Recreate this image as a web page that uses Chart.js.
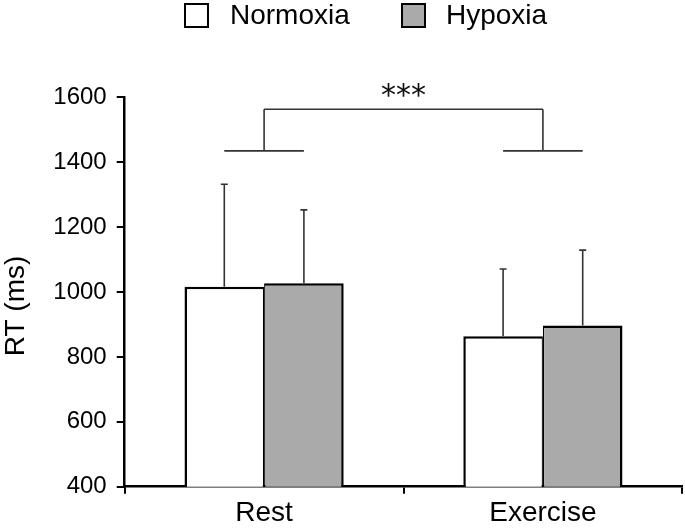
<!DOCTYPE html>
<html>
<head>
<meta charset="utf-8">
<title>RT by condition</title>
<script src="https://cdn.jsdelivr.net/npm/chart.js@4.4.1/dist/chart.umd.min.js"></script>
<style>
  html, body { margin: 0; padding: 0; background: #fff; }
  #wrap { width: 685px; height: 529px; }
</style>
</head>
<body>
<div id="wrap"><canvas id="rtChart" width="685" height="529"></canvas></div>
<script>
// data
var conditions = ["Rest", "Exercise"];
var normoxiaRT = [1016, 864];
var hypoxiaRT = [1027, 897];
var normoxiaSD = [316, 207];
var hypoxiaSD = [226, 232];
var yTicks = [400, 600, 800, 1000, 1200, 1400, 1600];
var seriesNames = ["Normoxia", "Hypoxia"];
var seriesFill = ["#ffffff", "#aaaaaa"];
// significance bracket (main effect of condition)
var sigLabel = "***";
var sigBracketTop = 1563;
var sigBracketFoot = 1435;

var sdList = [normoxiaSD, hypoxiaSD];

var extras = {
  id: "extras",
  afterDatasetsDraw: function(chart) {
    var ctx = chart.ctx;
    var y = chart.scales.y;
    var x = chart.scales.x;

    // error bars, upward only
    ctx.save();
    ctx.strokeStyle = "#333";
    ctx.lineWidth = 1.6;
    chart.data.datasets.forEach(function(ds, i) {
      var meta = chart.getDatasetMeta(i);
      meta.data.forEach(function(bar, j) {
        var top = y.getPixelForValue(ds.data[j] + sdList[i][j]);
        ctx.beginPath();
        ctx.moveTo(bar.x, bar.y);
        ctx.lineTo(bar.x, top);
        ctx.moveTo(bar.x - 3.5, top);
        ctx.lineTo(bar.x + 3.5, top);
        ctx.stroke();
      });
    });

    // bracket
    var yTop = y.getPixelForValue(sigBracketTop);
    var yFoot = y.getPixelForValue(sigBracketFoot);
    ctx.beginPath();
    conditions.forEach(function(c, j) {
      var cx = x.getPixelForValue(j);
      var n = chart.getDatasetMeta(0).data[j].x;
      var h = chart.getDatasetMeta(1).data[j].x;
      ctx.moveTo(n, yFoot);
      ctx.lineTo(h, yFoot);
      ctx.moveTo(cx, yFoot);
      ctx.lineTo(cx, yTop);
    });
    ctx.moveTo(x.getPixelForValue(0), yTop);
    ctx.lineTo(x.getPixelForValue(1), yTop);
    ctx.stroke();

    ctx.fillStyle = "#111";
    ctx.font = "30px 'DejaVu Sans'";
    ctx.textAlign = "center";
    ctx.textBaseline = "alphabetic";
    ctx.fillText(sigLabel, (x.getPixelForValue(0) + x.getPixelForValue(1)) / 2, yTop - 4);
    ctx.restore();
  },
  afterDraw: function(chart) {
    var ctx = chart.ctx;
    ctx.save();
    // legend
    var boxX = [185, 402];
    var textX = [230, 446];
    ctx.font = "28px 'Liberation Sans', Arial, sans-serif";
    ctx.textAlign = "left";
    ctx.textBaseline = "alphabetic";
    for (var i = 0; i < seriesNames.length; i++) {
      ctx.fillStyle = seriesFill[i];
      ctx.fillRect(boxX[i], 4, 23, 23);
      ctx.strokeStyle = "#000";
      ctx.lineWidth = 2;
      ctx.strokeRect(boxX[i], 4, 23, 23);
      ctx.fillStyle = "#000";
      ctx.fillText(seriesNames[i], textX[i], 24);
    }
    // y axis title
    ctx.translate(16.5, 306);
    ctx.rotate(-Math.PI / 2);
    ctx.textAlign = "center";
    ctx.textBaseline = "middle";
    ctx.fillText("RT (ms)", 0, 0);
    ctx.restore();
  }
};

var ctx = document.getElementById("rtChart").getContext("2d");
var chart = new Chart(ctx, {
  type: "bar",
  data: {
    labels: conditions,
    datasets: [
      {
        label: seriesNames[0],
        data: normoxiaRT,
        backgroundColor: seriesFill[0],
        borderColor: "#000",
        borderWidth: {top: 2.5, left: 2.5, right: 1.25, bottom: 0},
        borderSkipped: false
      },
      {
        label: seriesNames[1],
        data: hypoxiaRT,
        backgroundColor: seriesFill[1],
        borderColor: "#000",
        borderWidth: {top: 2.5, left: 1.25, right: 2.5, bottom: 0},
        borderSkipped: false
      }
    ]
  },
  options: {
    responsive: false,
    animation: false,
    layout: { padding: { top: 97.3, left: 0, right: 2.7, bottom: 0 } },
    datasets: { bar: { categoryPercentage: 0.571, barPercentage: 1.0 } },
    plugins: {
      legend: { display: false },
      tooltip: { enabled: false }
    },
    scales: {
      x: {
        afterFit: function(s) { s.height = 42.3; },
        grid: { offset: true, drawOnChartArea: false, drawTicks: true, tickLength: 7, lineWidth: 2, color: "#000" },
        border: { display: true, color: "#000", width: 2.5 },
        ticks: { color: "#000", padding: 3, font: { family: "'Liberation Sans', Arial, sans-serif", size: 28 } }
      },
      y: {
        min: yTicks[0],
        max: yTicks[yTicks.length - 1],
        afterFit: function(s) { s.width = 124.7; },
        afterBuildTicks: function(s) { s.ticks = yTicks.map(function(v) { return {value: v}; }); },
        grid: { drawOnChartArea: false, drawTicks: true, tickLength: 8, lineWidth: 2, color: "#000" },
        border: { display: true, color: "#000", width: 2.5 },
        ticks: {
          color: "#000", padding: 10,
          font: { family: "'Liberation Sans', Arial, sans-serif", size: 24 },
          callback: function(v) { return String(v); }
        }
      }
    }
  },
  plugins: [extras]
});
</script>
</body>
</html>
